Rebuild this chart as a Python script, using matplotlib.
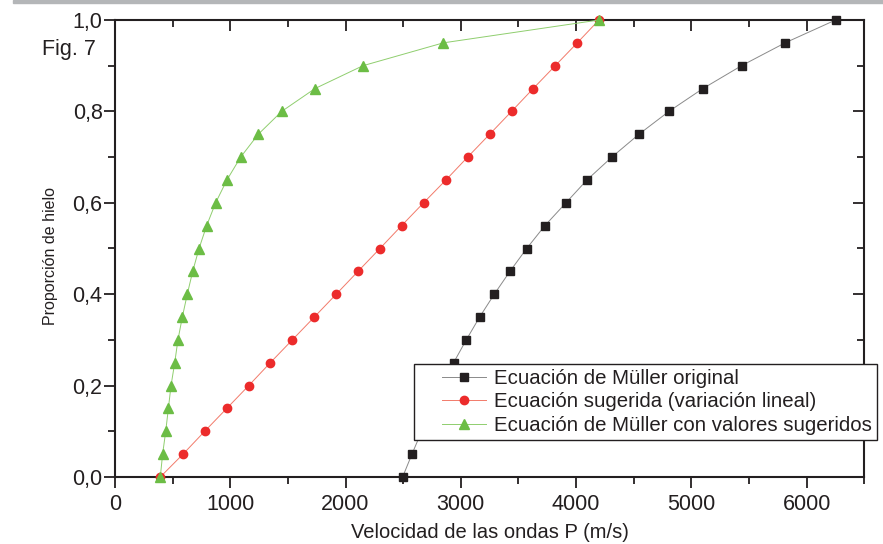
import matplotlib
matplotlib.use("Agg")
import matplotlib.pyplot as plt
from matplotlib import font_manager
from matplotlib.patches import Rectangle
from matplotlib.ticker import MultipleLocator, FuncFormatter
from matplotlib.legend_handler import HandlerLine2D

plt.rcParams['font.family'] = ['Liberation Sans', 'DejaVu Sans']

# proporcion de hielo (eje y)
ice = [0.00, 0.05, 0.10, 0.15, 0.20, 0.25, 0.30, 0.35, 0.40, 0.45, 0.50,
       0.55, 0.60, 0.65, 0.70, 0.75, 0.80, 0.85, 0.90, 0.95, 1.00]

# velocidad de ondas P (m/s) para cada curva
vp_muller = [2495, 2576, 2660, 2745, 2840, 2937, 3047, 3163, 3290, 3426, 3571,
             3729, 3912, 4094, 4310, 4545, 4805, 5100, 5435, 5813, 6251]
vp_linear = [393, 590, 778, 969, 1160, 1347, 1538, 1729, 1919, 2108, 2298,
             2486, 2677, 2871, 3059, 3250, 3440, 3628, 3819, 4010, 4198]
vp_suger = [393, 413, 440, 463, 486, 518, 546, 584, 627, 674, 729,
            795, 873, 971, 1090, 1243, 1446, 1735, 2151, 2848, 4198]

labels = ["Ecuación de Müller original",
          "Ecuación sugerida (variación lineal)",
          "Ecuación de Müller con valores sugeridos"]

txt = '#231f20'
W, H = 883, 544

# etiqueta y: fuente estrecha si existe
names = {f.name for f in font_manager.fontManager.ttflist}
if 'Liberation Sans Narrow' in names:
    ylab_font, ylab_size = ['Liberation Sans Narrow', 'DejaVu Sans'], 13.5
else:
    ylab_font, ylab_size = ['Liberation Sans', 'DejaVu Sans'], 11.5

fig = plt.figure(figsize=(W / 100, H / 100), dpi=100)
ax = fig.add_axes([115 / W, 1 - 477 / H, (864.3 - 115) / W, (477 - 20) / H])

# franja gris superior
fig.patches.append(Rectangle((13 / W, 1 - 3 / H), 1, 3 / H, transform=fig.transFigure,
                             color='#b4b6b8', zorder=0))

l1, = ax.plot(vp_muller, ice, color='#8a8a8a', lw=0.7, marker='s', ms=5.3,
              mfc='#231f20', mec='#231f20', clip_on=False, zorder=3)
l2, = ax.plot(vp_linear, ice, color='#f27a6a', lw=0.7, marker='o', ms=6,
              mfc='#ec2b2b', mec='#ec2b2b', clip_on=False, zorder=3)
l3, = ax.plot(vp_suger, ice, color='#8fce6e', lw=0.7, marker='^', ms=6.5,
              mfc='#6cbd45', mec='#6cbd45', clip_on=False, zorder=4)

ax.set_xlim(0, 6500)
ax.set_ylim(0, 1.0)
ax.xaxis.set_major_locator(MultipleLocator(1000))
ax.xaxis.set_minor_locator(MultipleLocator(500))
ax.yaxis.set_major_locator(MultipleLocator(0.2))
ax.yaxis.set_minor_locator(MultipleLocator(0.1))
ax.xaxis.set_major_formatter(FuncFormatter(lambda v, p: f"{v:.0f}"))
ax.yaxis.set_major_formatter(FuncFormatter(lambda v, p: f"{v:.1f}".replace('.', ',')))

for s in ax.spines.values():
    s.set_linewidth(1.5)
    s.set_color(txt)

ax.tick_params(which='both', direction='out', top=True, right=True, color=txt,
               width=1.3, labelsize=15.5, labelcolor=txt)
ax.tick_params(which='major', length=8)
ax.tick_params(which='minor', length=5)
ax.tick_params(axis='x', which='major', pad=4)
ax.tick_params(axis='y', which='major', pad=1)
# arriba y derecha hacia adentro
for t in ax.xaxis.get_major_ticks() + ax.xaxis.get_minor_ticks():
    t.tick2line.set_marker(3)
for t in ax.yaxis.get_major_ticks() + ax.yaxis.get_minor_ticks():
    t.tick2line.set_marker(0)

ax.set_xlabel("Velocidad de las ondas P (m/s)", fontsize=14.5, color=txt, labelpad=6)
ax.set_ylabel("Proporción de hielo", fontsize=ylab_size, color=txt, family=ylab_font)
ax.yaxis.set_label_coords((58 - 115) / (864.3 - 115), (477 - 256) / 457)

fig.text(42 / W, 1 - 55 / H, "Fig. 7", fontsize=15.5, color=txt, ha='left', va='baseline')

hm = {l: HandlerLine2D(xpad=1.1) for l in (l1, l2, l3)}
leg = ax.legend([l1, l2, l3], labels, loc='lower left',
                bbox_to_anchor=(414 / W, 1 - 440 / H), bbox_transform=fig.transFigure,
                borderaxespad=0, fontsize=14.7, fancybox=False, framealpha=1,
                edgecolor=txt, handlelength=3.3, handletextpad=0.35,
                labelspacing=0.22, borderpad=0.25, numpoints=1, handler_map=hm)
leg.get_frame().set_linewidth(1.0)
for t in leg.get_texts():
    t.set_color(txt)

fig.savefig("out.png", dpi=100)
